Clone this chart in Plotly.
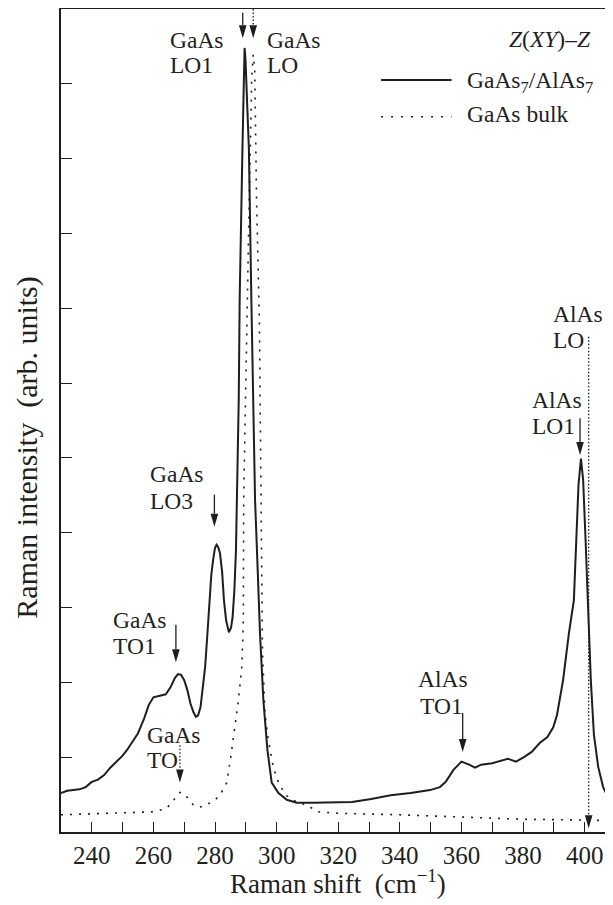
import plotly.graph_objects as go

# ---------------- data ----------------
sl_shift = [230.0, 232.0, 234.0, 236.0, 238.0, 240.0, 242.0, 244.0, 246.0, 248.0,
            250.0, 251.5, 253.0, 255.0, 257.0, 258.5, 260.0, 262.0, 264.0, 265.5,
            267.0, 268.0, 269.0, 270.0, 271.0, 272.0, 273.0, 273.8, 274.5, 275.3,
            276.0, 276.8, 277.5, 278.1, 278.8, 279.4, 280.0, 280.5, 281.0, 281.6,
            282.3, 282.9, 283.6, 284.5, 285.2, 285.7, 286.3, 286.8, 287.3, 287.7,
            288.0, 288.5, 288.9, 289.3, 289.6, 289.9, 290.4, 291.0, 291.8, 292.4,
            293.0, 293.8, 294.6, 295.7, 297.0, 298.4, 300.6, 303.3, 306.5, 311.7,
            318.0, 324.5, 330.7, 337.0, 343.5, 349.8, 353.0, 354.9, 357.4, 360.0,
            362.5, 364.4, 366.4, 370.0, 375.1, 377.7, 380.3, 382.8, 385.4, 387.9,
            389.8, 391.0, 393.0, 394.9, 396.5, 397.3, 398.0, 398.8, 399.5, 400.3,
            401.1, 402.0, 403.0, 404.4, 406.0, 408.0, 409.3]
sl_intensity = [0.52, 0.55, 0.56, 0.57, 0.60, 0.67, 0.70, 0.76, 0.86, 0.94,
                1.02, 1.10, 1.19, 1.32, 1.52, 1.70, 1.80, 1.82, 1.84, 1.93,
                2.06, 2.11, 2.10, 2.03, 1.90, 1.72, 1.60, 1.54, 1.56, 1.67,
                1.90, 2.21, 2.63, 3.01, 3.44, 3.64, 3.80, 3.84, 3.81, 3.73,
                3.48, 3.10, 2.83, 2.67, 2.73, 2.87, 3.24, 3.77, 4.71, 5.78,
                7.11, 8.45, 9.12, 9.92, 10.48, 10.32, 9.79, 9.12, 7.11, 5.78,
                4.44, 3.56, 2.66, 1.76, 1.10, 0.66, 0.52, 0.43, 0.39, 0.39,
                0.39, 0.40, 0.44, 0.49, 0.52, 0.56, 0.60, 0.67, 0.83, 0.94,
                0.90, 0.86, 0.90, 0.92, 0.98, 0.94, 1.00, 1.07, 1.19, 1.27,
                1.40, 1.56, 2.03, 2.66, 3.10, 3.90, 4.64, 4.99, 4.71, 3.90,
                3.10, 2.03, 1.30, 0.87, 0.60, 0.43, 0.37]

bulk_shift = [230.0, 240.0, 250.0, 260.0, 264.0, 266.0, 267.5, 268.6, 270.0, 271.5,
              273.0, 274.6, 276.5, 278.4, 280.0, 281.6, 283.0, 283.8, 285.1, 286.5,
              287.6, 288.7, 289.2, 289.3, 289.8, 290.5, 291.1, 291.6, 291.9, 292.4,
              292.9, 293.1, 293.5, 294.4, 295.0, 295.4, 296.2, 297.3, 298.9, 300.6,
              303.0, 306.5, 309.8, 313.4, 320.0, 330.0, 340.0, 360.0, 380.0, 400.0,
              409.3]
bulk_intensity = [0.23, 0.24, 0.25, 0.27, 0.31, 0.39, 0.48, 0.53, 0.51, 0.44,
                  0.36, 0.33, 0.35, 0.39, 0.43, 0.49, 0.59, 0.66, 1.00, 1.40,
                  1.76, 2.21, 2.83, 4.44, 5.78, 7.11, 8.45, 9.56, 10.05, 10.39,
                  10.19, 9.56, 8.41, 6.84, 4.44, 2.43, 1.59, 1.23, 0.87, 0.66,
                  0.49, 0.40, 0.36, 0.27, 0.25, 0.24, 0.23, 0.20, 0.17, 0.16,
                  0.15]

x_tick_values = [240, 260, 280, 300, 320, 340, 360, 380, 400]
x_tick_labels = ["240", "260", "280", "300", "320", "340", "360", "380", "400"]

# mode markers: x, arrow start y, arrow tip y, dotted?
arrow_x = [289.0, 292.4, 279.8, 267.3, 268.6, 360.4, 398.5, 401.3]
arrow_start = [10.95, 11.0, 4.51, 2.77, 1.16, 1.59, 5.53, 6.62]
arrow_tip = [10.61, 10.61, 4.08, 2.27, 0.66, 1.07, 5.04, 0.05]
arrow_dotted = [False, True, False, False, True, False, False, True]

# labels: text, left x, centre y
label_text = ["GaAs", "LO1", "GaAs", "LO", "GaAs", "LO3", "GaAs", "TO1", "GaAs", "TO",
              "AlAs", "TO1", "AlAs", "LO1", "AlAs", "LO"]
label_x = [264.74, 264.74, 296.23, 296.23, 258.25, 258.25, 246.23, 246.23, 257.27, 257.27,
           345.26, 345.91, 382.27, 382.27, 389.09, 389.09]
label_y = [10.58, 10.25, 10.58, 10.25, 4.78, 4.43, 2.84, 2.49, 1.30, 0.96,
           2.04, 1.69, 5.78, 5.43, 6.92, 6.57]

INK = "#1e1e1e"
TXT = "#231f20"
FONT = "Liberation Serif"

fig = go.Figure()
fig.add_trace(go.Scatter(x=sl_shift, y=sl_intensity, mode="lines",
                         line=dict(color=INK, width=2.0), showlegend=False,
                         name="GaAs7/AlAs7"))
fig.add_trace(go.Scatter(x=bulk_shift, y=bulk_intensity, mode="lines",
                         line=dict(color=INK, width=1.6, dash="2px,7px"),
                         showlegend=False, name="GaAs bulk"))

shapes = []
annotations = []
HEAD = 13  # px
for x, y0, y1, dotted in zip(arrow_x, arrow_start, arrow_tip, arrow_dotted):
    base = y1 + HEAD / 74.8
    shapes.append(dict(type="line", xref="x", yref="y", x0=x, x1=x, y0=y0, y1=base,
                       line=dict(color=INK, width=1.3,
                                 dash="1.5px,2px" if dotted else "solid")))
    shapes.append(dict(type="path", xref="x", yref="y", xsizemode="pixel",
                       ysizemode="pixel", xanchor=x, yanchor=y1,
                       path="M-3.8,13 L3.8,13 L0,0 Z", fillcolor=INK,
                       line=dict(width=0)))

for t, x, y in zip(label_text, label_x, label_y):
    annotations.append(dict(text=t, x=x, y=y, xref="x", yref="y", xanchor="left",
                            yanchor="middle", showarrow=False,
                            font=dict(family=FONT, size=23.5, color=TXT)))

# geometry / legend text
annotations.append(dict(text="<i>Z</i>(<i>XY</i>)–<i>Z</i>", x=374.81, y=10.60,
                        xref="x", yref="y", xanchor="left", yanchor="middle",
                        showarrow=False, font=dict(family=FONT, size=23.5, color=TXT)))
annotations.append(dict(text="GaAs<sub>7</sub>/AlAs<sub>7</sub>", x=361.17, y=10.03,
                        xref="x", yref="y", xanchor="left", yanchor="middle",
                        showarrow=False, font=dict(family=FONT, size=23.5, color=TXT)))
annotations.append(dict(text="GaAs bulk", x=361.17, y=9.59,
                        xref="x", yref="y", xanchor="left", yanchor="middle",
                        showarrow=False, font=dict(family=FONT, size=23.5, color=TXT)))
shapes.append(dict(type="line", xref="x", yref="y", x0=333.9, x1=356.79, y0=10.05,
                   y1=10.05, line=dict(color=INK, width=2.0)))
shapes.append(dict(type="line", xref="x", yref="y", x0=333.9, x1=356.79, y0=9.56,
                   y1=9.56, line=dict(color=INK, width=1.6, dash="2px,8px")))

# axis titles
annotations.append(dict(text="Raman intensity\u00a0\u00a0(arb. units)", x=-0.0616, y=0.467,
                        xref="paper", yref="paper", textangle=-90, showarrow=False,
                        xanchor="center", yanchor="middle",
                        font=dict(family=FONT, size=30, color=TXT)))
annotations.append(dict(text="Raman shift\u00a0\u00a0(cm<sup>−1</sup>)", x=0.502, y=-0.061,
                        xref="paper", yref="paper", showarrow=False,
                        xanchor="center", yanchor="middle",
                        font=dict(family=FONT, size=27, color=TXT)))

# the page body adds an 8 px margin, so the figure is 8 px smaller each way
fig.update_layout(
    template="none",
    width=605, height=897,
    margin=dict(l=53, r=0, t=1, b=73, pad=0),
    paper_bgcolor="white", plot_bgcolor="white",
    shapes=shapes, annotations=annotations,
    font=dict(family=FONT, color=TXT),
    showlegend=False,
    xaxis=dict(range=[230, 409.2], showgrid=False, zeroline=False, automargin=False,
               showline=True, linecolor=INK, linewidth=1.6, mirror=True,
               ticks="inside", ticklen=10, tickwidth=1.2, tickcolor=INK,
               tickvals=x_tick_values, ticktext=x_tick_labels,
               tickfont=dict(family=FONT, size=25, color=TXT),
               minor=dict(dtick=10, tick0=230, ticks="inside", ticklen=10,
                          tickwidth=1.2, tickcolor=INK, showgrid=False)),
    yaxis=dict(range=[0, 11], showgrid=False, zeroline=False, automargin=False,
               showline=True, linecolor=INK, linewidth=1.6,
               ticks="inside", ticklen=11, tickwidth=1.2, tickcolor=INK,
               tickvals=list(range(1, 11)), showticklabels=False),
)

fig.write_html("out.html")
